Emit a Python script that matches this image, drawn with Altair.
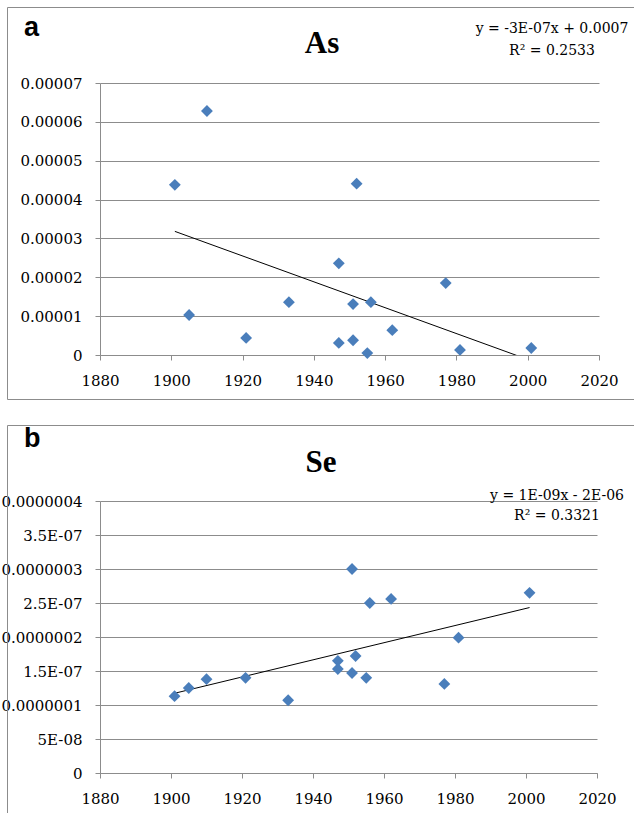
import json
import altair as alt
import pandas as pd

# ---------------- data ----------------
YEARS = [1901, 1905, 1910, 1921, 1933, 1947, 1947, 1951, 1951, 1952, 1955, 1956, 1962, 1977, 1981, 2001]
AS_VALUES = [4.38e-5, 1.03e-5, 6.28e-5, 0.44e-5, 1.36e-5, 2.36e-5, 0.31e-5, 1.31e-5,
             0.38e-5, 4.41e-5, 0.05e-5, 1.36e-5, 0.64e-5, 1.85e-5, 0.13e-5, 0.18e-5]
SE_VALUES = [1.13e-7, 1.25e-7, 1.38e-7, 1.40e-7, 1.07e-7, 1.65e-7, 1.53e-7, 3.00e-7,
             1.47e-7, 1.72e-7, 1.40e-7, 2.50e-7, 2.56e-7, 1.31e-7, 1.99e-7, 2.65e-7]

X_TICKS = [1880, 1900, 1920, 1940, 1960, 1980, 2000, 2020]
AS_TICKS = [0, 0.00001, 0.00002, 0.00003, 0.00004, 0.00005, 0.00006, 0.00007]
AS_TICK_LABELS = ["0", "0.00001", "0.00002", "0.00003", "0.00004", "0.00005", "0.00006", "0.00007"]
SE_TICKS = [0, 0.00000005, 0.0000001, 0.00000015, 0.0000002, 0.00000025, 0.0000003, 0.00000035, 0.0000004]
SE_TICK_LABELS = ["0", "5E-08", "0.0000001", "1.5E-07", "0.0000002", "2.5E-07", "0.0000003", "3.5E-07", "0.0000004"]

LETTERS = ["a", "b"]
TITLES = ["As", "Se"]
EQUATIONS = ["y = -3E-07x + 0.0007", "y = 1E-09x - 2E-06"]
R_SQUARED = ["R\u00b2 = 0.2533", "R\u00b2 = 0.3321"]

# ---------------- style ----------------
GRAY = "#8c8c8c"
BLUE = "#4a7ebb"
SERIF = "DejaVu Serif"


def panel(years, values, ticks, labels, letter, title, eq, r2, width, height, lay):
    df = pd.DataFrame({"year": years, "value": values})
    mult = round(1 / ticks[1])
    label_expr = f"{json.dumps(labels)}[round(datum.value * {mult})]"

    x = alt.X("year:Q",
              scale=alt.Scale(domain=[X_TICKS[0], X_TICKS[-1]], nice=False, zero=False),
              axis=alt.Axis(values=X_TICKS, format="d", title=None, grid=False,
                            domainColor=GRAY, tickColor=GRAY, tickSize=5, labelPadding=13,
                            labelFont=SERIF, labelFontSize=15, labelColor="black",
                            labelFlush=False, labelOverlap=False))
    y = alt.Y("value:Q",
              scale=alt.Scale(domain=[ticks[0], ticks[-1]], nice=False, zero=False),
              axis=alt.Axis(values=ticks, labelExpr=label_expr, title=None, grid=True,
                            gridColor=GRAY, domainColor=GRAY, tickColor=GRAY, tickSize=5,
                            labelPadding=13, labelFont=SERIF, labelFontSize=15,
                            labelColor="black", labelFlush=False, labelOverlap=False))

    base = alt.Chart(df).encode(x=x, y=y)
    pts = base.mark_point(shape="diamond", filled=True, size=140, color=BLUE, opacity=1)
    trend = base.transform_regression("year", "value").mark_line(
        color="black", strokeWidth=1, clip=True)

    one = alt.Chart(pd.DataFrame({"k": [0]}))
    letter_t = one.mark_text(text=letter, font="Liberation Sans", fontWeight="bold",
                             fontSize=27, align="left", baseline="alphabetic",
                             color="black").encode(x=alt.value(lay["lx"]), y=alt.value(lay["ly"]))
    title_t = one.mark_text(text=title, font="Liberation Serif", fontWeight="bold",
                            fontSize=31, align="center", baseline="alphabetic",
                            color="black").encode(x=alt.value(lay["tx"]), y=alt.value(lay["ty"]))
    eq_t = one.mark_text(text=eq, font=SERIF, fontSize=14, align="center",
                         baseline="alphabetic", color="black").encode(
        x=alt.value(lay["ex"]), y=alt.value(lay["ey1"]))
    r2_t = one.mark_text(text=r2, font=SERIF, fontSize=14, align="center",
                         baseline="alphabetic", color="black").encode(
        x=alt.value(lay["ex"]), y=alt.value(lay["ey2"]))

    rules = [
        one.mark_rule(color=GRAY, strokeWidth=1).encode(
            x=alt.value(-92.5), x2=alt.value(534), y=alt.value(-75.5)),
        one.mark_rule(color=GRAY, strokeWidth=1).encode(
            x=alt.value(-92.5), y=alt.value(-75.5), y2=alt.value(lay["bottom"])),
    ]
    if lay.get("draw_bottom"):
        rules.append(one.mark_rule(color=GRAY, strokeWidth=1).encode(
            x=alt.value(-92.5), x2=alt.value(534), y=alt.value(lay["bottom"])))

    return alt.layer(*rules, trend, pts, letter_t, title_t, eq_t, r2_t).properties(
        width=width, height=height)


panel_a = panel(YEARS, AS_VALUES, AS_TICKS, AS_TICK_LABELS, LETTERS[0], TITLES[0],
                EQUATIONS[0], R_SQUARED[0], 499, 272,
                dict(lx=-76, ly=-47, tx=222, ty=-30, ex=452, ey1=-50, ey2=-28,
                     bottom=316.5, draw_bottom=True))
panel_b = panel(YEARS, SE_VALUES, SE_TICKS, SE_TICK_LABELS, LETTERS[1], TITLES[1],
                EQUATIONS[1], R_SQUARED[1], 497, 272,
                dict(lx=-76, ly=-54, tx=221, ty=-29, ex=457, ey1=-1, ey2=19,
                     bottom=312, draw_bottom=False))

chart = alt.vconcat(panel_a, panel_b, spacing=146, bounds="flush").properties(
    padding={"left": 0, "top": 7, "right": 0, "bottom": 0},
    background="white",
).configure_view(stroke=None)

chart.save("out.html", embed_options={"renderer": "svg", "actions": False})
